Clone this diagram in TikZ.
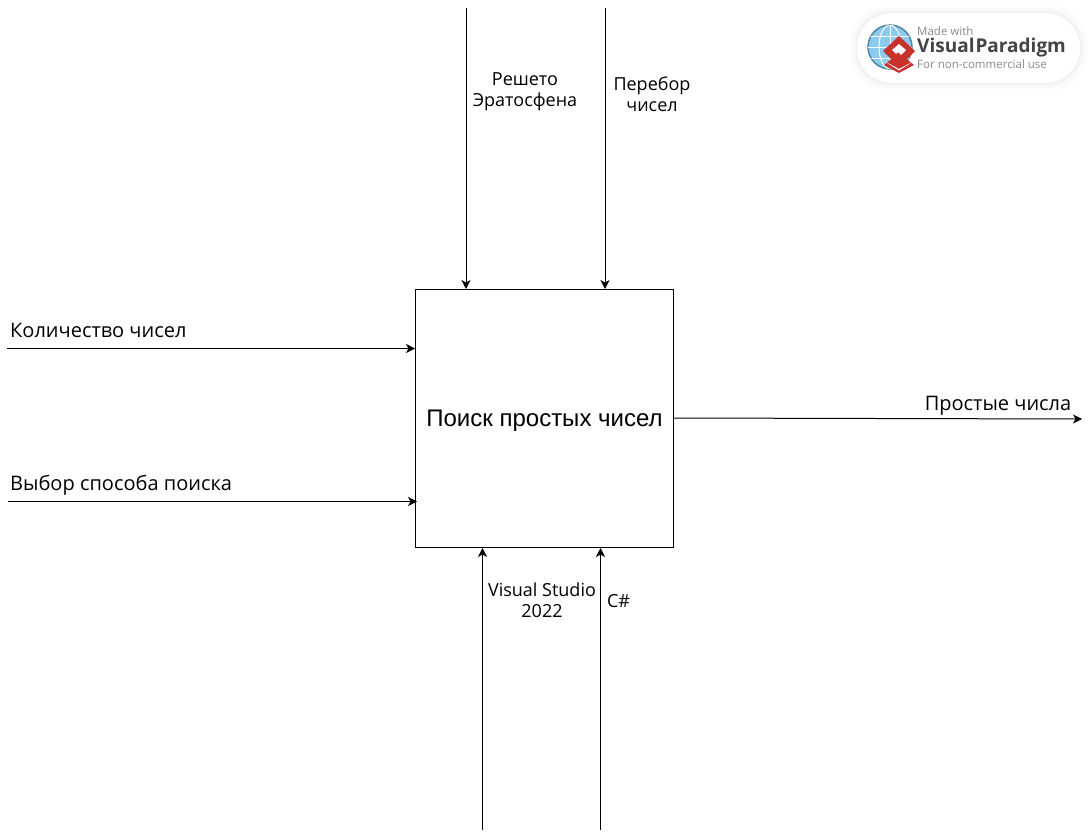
\documentclass[tikz,border=0pt]{standalone}
\usepackage{fontspec}
\setmainfont{Open Sans}
\newfontfamily\boxfont{Liberation Sans}
\newfontfamily\badgefont{Open Sans}
\usetikzlibrary{arrows.meta}
\usetikzlibrary{positioning}
\definecolor{globeblue}{HTML}{8CCBF0}
\definecolor{globerim}{HTML}{4F8A9C}
\definecolor{badgered}{HTML}{C8322B}
\definecolor{badgegray}{HTML}{8A8A8A}
\definecolor{badgedark}{HTML}{444444}
\tikzset{flow/.style={line width=1pt, -{Stealth[length=9pt, width=9pt, inset=2.5pt]}},
	label/.style={font=\fontsize{18}{21}\selectfont, align=center, inner sep=0pt, text=black},
	biglabel/.style={font=\fontsize{20}{24}\selectfont, inner sep=0pt, text=black},
	badgeline/.style={inner sep=0pt, anchor=west, font=\badgefont\fontsize{11.5}{12}\selectfont, text=badgegray}}

\begin{document}
\begin{tikzpicture}[x=1pt, y=-1pt]
		\useasboundingbox (0,0) rectangle (1090,838);
		\fill[white] (0,0) rectangle (1090,838);
		\node[draw, line width=1pt, minimum size=258pt, inner sep=0pt, text height=21pt, text depth=5pt, font=\boxfont\fontsize{24}{28}\selectfont] (search) at (544.5,418.5) {Поиск простых чисел};
		% free ends
		\coordinate (sieveTop) at (466,8);
		\coordinate (bruteTop) at (605,8);
		\coordinate (countIn) at (7,348.5);
		\coordinate (choiceIn) at (8,501.5);
		\coordinate (primesStart) at (674,418);
		\coordinate (primesEnd) at (1082,419);
		\coordinate (studioBot) at (482.5,830);
		\coordinate (sharpBot) at (600.5,830);
		\draw[flow] (sieveTop) -- (sieveTop |- search.north);
		\draw[flow] (bruteTop) -- (bruteTop |- search.north);
		\draw[flow] (countIn) -- (countIn -| search.west);
		\draw[flow] (choiceIn) -- ([xshift=2pt]choiceIn -| search.west);
		\draw[flow] (primesStart) -- (primesEnd);
		\draw[flow] (studioBot) -- (studioBot |- search.south);
		\draw[flow] (sharpBot) -- (sharpBot |- search.south);
		% labels
		\node[label] (sieve) at (525,92) {Решето\\Эратосфена};
		\node[label] (brute) at (652,94) {Перебор\\чисел};
		\node[biglabel, anchor=west] (count) at (10,330) {Количество чисел};
		\node[biglabel, anchor=west] (choice) at (10,485) {Выбор способа поиска};
		\node[biglabel] (primes) at (998,406) {Простые числа};
		\node[label] (studio) at (542,600.5) {Visual Studio\\2022};
		\node[label] (sharp) at (618.5,601.5) {C\#};
		% badge
		\foreach \g/\o in {7/0.008,5/0.012,3/0.015,1.5/0.02}
			\fill[black, opacity=\o, rounded corners=35pt] (857-\g,13-\g) rectangle (1080+\g,83+\g);
		\fill[white, rounded corners=35pt] (857,13) rectangle (1080,83);
		\fill[globeblue] (890,47) circle (22pt);
		\draw[globerim, line width=1.5pt] (890,47) circle (22pt);
		\begin{scope}
			\clip (890,47) circle (22pt);
			\draw[white, line width=1pt] (868,47) -- (912,47) (868,36) -- (912,36) (868,58) -- (912,58) (890,25) -- (890,69);
			\draw[white, line width=1pt] (890,47) ellipse (11pt and 22pt);
		\end{scope}
		\fill[badgered] (899,53) -- (914,65) -- (899,73) -- (884,65) -- cycle;
		\fill[white] (884,61) -- (899,69) -- (914,61) -- (899,70.5) -- cycle;
		\fill[badgered] (899,36) -- (915,51) -- (899,67) -- (883,51) -- cycle;
		\fill[white] (899,44) -- (906,50) -- (901,55) -- (898,52) -- (896,54) -- (892,50) -- cycle;
		\node[badgeline] (made) at (917,31) {Made with};
		\node[badgeline, text=badgedark, font=\badgefont\bfseries\fontsize{19}{22}\selectfont] (vp) at (917,48) {Visual\kern1pt Paradigm};
		\node[badgeline] (use) at (917,64) {For non-commercial use};
	\end{tikzpicture}
\end{document}
